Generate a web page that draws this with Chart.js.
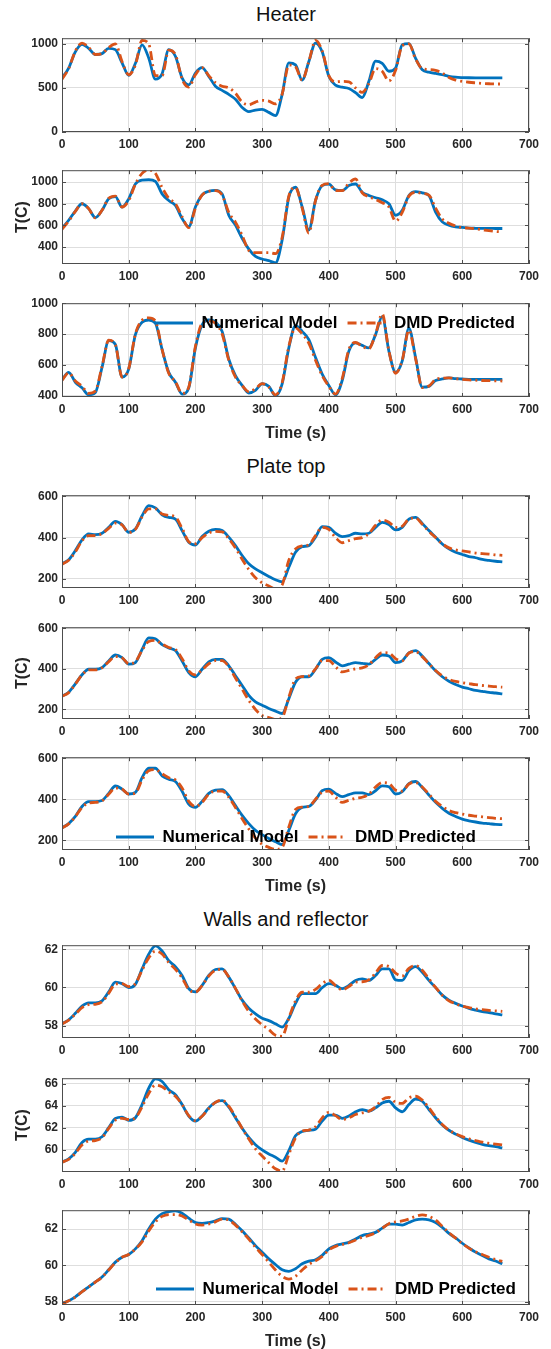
<!DOCTYPE html>
<html>
<head>
<meta charset="utf-8">
<script src="https://cdn.jsdelivr.net/npm/chart.js@4.4.1/dist/chart.umd.min.js"></script>
<style>
  body { margin: 0; background: #fff; }
  #fig { position: relative; width: 551px; height: 1349px; font-family: "Liberation Sans", Arial, sans-serif; }
  #fig canvas { position: absolute; left: 0; }
  .grp-title { position: absolute; width: 260px; margin-left: -130px; text-align: center; font-size: 20px; line-height: 20px; color: #111; }
</style>
</head>
<body>
<div id="fig">
  <div class="grp-title" style="left:286px;top:4px">Heater</div>
  <div class="grp-title" style="left:286px;top:456px">Plate top</div>
  <div class="grp-title" style="left:286px;top:909px">Walls and reflector</div>
</div>
<script>
// time axis (s)
const time = [0,10,20,30,40,50,60,70,80,90,100,110,120,130,140,150,160,170,180,190,200,210,220,230,240,250,260,270,280,290,300,310,320,330,340,350,360,370,380,390,400,410,420,430,440,450,460,470,480,490,500,510,520,530,540,550,560,570,580,590,600,610,620,630,640,650,660];
const xTicks = [0,100,200,300,400,500,600,700];

// Heater
const heaterNum1 = [613,725,910,995,950,880,890,950,935,785,643,780,990,840,600,660,935,860,615,535,670,730,632,520,472,427,372,279,232,249,256,223,185,427,785,762,590,800,1010,910,632,532,509,494,446,390,576,805,780,690,725,990,1004,836,706,680,665,650,632,622,618,616,615,615,615,615,615];
const heaterDmd1 = [600,720,920,1010,960,880,890,960,1000,800,650,760,1040,1000,640,640,930,880,600,510,650,730,640,560,520,500,440,340,310,340,360,350,320,430,760,740,590,800,1040,920,640,570,575,570,500,450,550,720,690,580,700,980,1000,830,720,710,700,670,620,590,575,565,558,552,548,545,545];
const heaterNum2 = [573,648,733,800,755,673,740,845,865,770,845,982,1018,1021,1006,891,830,785,664,588,770,882,915,924,891,694,603,482,382,315,291,276,255,467,861,952,770,558,830,967,980,927,921,967,982,906,876,855,836,800,694,740,876,912,900,876,724,633,603,588,582,576,574,573,573,572,572];
const heaterDmd2 = [565,640,730,800,755,670,740,850,870,770,830,980,1080,1110,1080,950,850,800,680,580,760,880,915,920,880,720,630,510,370,350,350,350,340,490,870,950,760,530,830,970,985,920,920,990,1030,900,865,840,810,770,640,720,870,905,895,880,760,660,620,595,580,575,568,560,552,545,540];
const heaterNum3 = [502,551,487,451,405,420,583,757,732,520,572,796,877,891,870,700,551,487,410,450,710,860,891,877,817,636,530,466,417,434,477,460,400,477,710,855,817,764,647,540,466,405,498,689,743,726,710,796,913,689,551,625,838,647,455,460,498,508,515,510,508,506,505,505,505,505,505];
const heaterDmd3 = [500,548,495,460,415,430,590,760,730,520,575,800,890,905,885,700,545,490,415,455,720,870,885,870,800,630,520,465,425,445,478,455,405,485,720,840,800,740,630,530,460,410,510,700,745,720,705,800,930,690,545,630,825,640,452,462,505,513,515,510,505,502,500,498,497,496,495];

// Plate top
const plateNum1 = [273,292,337,389,418,414,421,450,479,463,426,442,506,555,544,511,498,490,434,377,364,405,431,440,434,402,361,313,273,248,229,211,195,185,256,329,356,361,402,453,450,421,405,410,421,418,421,450,474,463,437,450,490,498,469,434,402,369,345,329,318,308,302,294,289,285,282];
const plateDmd1 = [270,290,330,385,410,410,420,445,470,462,425,440,500,540,540,515,508,500,445,380,370,400,422,430,428,395,350,295,245,205,180,165,150,170,290,345,360,365,410,450,440,400,375,385,395,400,420,460,485,475,450,455,490,495,465,430,400,370,350,340,335,330,325,322,320,316,314];
const plateNum2 = [266,285,326,371,398,398,406,439,468,455,423,431,495,552,548,519,503,490,439,382,361,398,434,447,447,415,366,318,269,237,221,205,192,180,253,334,361,361,398,447,455,434,415,423,431,427,423,447,468,463,431,439,479,490,463,426,390,361,339,323,310,302,294,289,284,281,277];
const plateDmd2 = [265,283,325,370,395,395,405,435,460,455,425,435,490,535,540,522,505,495,450,390,370,395,425,440,440,410,355,300,245,200,170,160,150,160,260,350,362,365,400,440,440,410,385,392,400,405,420,455,480,478,450,440,478,485,460,425,392,365,348,338,332,327,322,318,315,312,310];
const plateNum3 = [261,281,316,365,389,389,394,429,465,450,426,434,506,552,552,515,498,487,439,377,361,390,429,445,447,418,369,321,281,248,227,208,192,179,248,329,361,365,397,442,450,429,413,423,431,431,423,442,466,461,426,437,477,487,458,421,385,356,332,316,303,295,289,284,281,277,276];
const plateDmd3 = [260,280,315,360,382,385,392,425,455,450,425,430,495,540,545,525,505,495,455,390,365,385,425,440,440,410,360,305,255,210,180,165,155,165,265,350,362,365,400,435,440,410,385,395,405,410,425,460,482,478,445,440,475,482,460,425,390,365,345,335,328,322,318,314,310,307,305];

// Walls and reflector
const wallsNum1 = [58.10,58.31,58.65,59.03,59.20,59.20,59.30,59.77,60.28,60.20,59.99,60.16,60.97,61.74,62.17,61.91,61.40,61.09,60.63,59.94,59.77,60.11,60.63,60.94,60.97,60.54,59.94,59.34,58.91,58.62,58.39,58.27,58.10,57.93,58.39,59.17,59.68,59.68,59.68,59.99,60.20,60.11,59.94,60.11,60.37,60.45,60.37,60.63,60.97,60.97,60.40,60.37,60.88,61.09,60.80,60.37,59.99,59.60,59.34,59.17,59.03,58.91,58.82,58.74,58.69,58.62,58.57];
const wallsDmd1 = [58.10,58.30,58.60,58.95,59.10,59.12,59.25,59.70,60.18,60.20,60.05,60.20,60.90,61.55,61.90,61.75,61.30,60.95,60.50,59.90,59.75,60.10,60.60,60.90,60.95,60.55,59.95,59.30,58.75,58.35,58.05,57.80,57.50,57.45,58.40,59.30,59.75,59.75,59.90,60.20,60.38,60.10,59.88,60.05,60.28,60.30,60.40,60.75,61.15,61.10,60.75,60.60,61.00,61.15,60.90,60.45,60.00,59.60,59.30,59.15,59.02,58.95,58.88,58.84,58.80,58.78,58.75];
const wallsNum2 = [58.90,59.20,59.79,60.68,60.98,60.98,61.19,62.02,62.85,62.97,62.67,62.91,64.10,65.58,66.42,66.18,65.44,64.99,64.10,63.06,62.61,63.06,63.80,64.31,64.46,63.86,62.91,61.96,61.13,60.48,60.00,59.64,59.35,58.99,59.94,61.28,61.66,61.78,61.87,62.61,63.15,63.15,62.85,63.06,63.45,63.65,63.51,63.80,64.25,64.40,63.80,63.45,64.10,64.60,64.40,63.65,62.91,62.26,61.78,61.43,61.13,60.89,60.68,60.51,60.39,60.30,60.18];
const wallsDmd2 = [58.90,59.15,59.70,60.45,60.80,60.85,61.10,61.95,62.70,62.85,62.75,62.90,63.90,65.10,65.85,65.70,65.25,64.85,64.10,63.10,62.65,63.05,63.75,64.30,64.50,63.95,63.00,61.95,61.00,60.10,59.45,58.85,58.30,58.10,59.60,61.10,61.70,61.80,62.10,62.90,63.40,63.10,62.75,62.90,63.20,63.35,63.50,63.90,64.55,64.75,64.30,64.20,64.70,64.85,64.50,63.80,63.00,62.30,61.80,61.45,61.20,61.00,60.85,60.70,60.60,60.52,60.45];
const wallsNum3 = [57.91,58.05,58.27,58.55,58.82,59.09,59.36,59.76,60.18,60.45,60.60,60.91,61.36,62.00,62.55,62.85,62.96,63.00,62.87,62.60,62.36,62.31,62.36,62.45,62.58,62.55,62.27,61.91,61.51,61.09,60.73,60.36,60.05,59.76,59.67,59.82,60.09,60.24,60.31,60.55,60.91,61.09,61.18,61.27,61.45,61.64,61.73,61.82,62.05,62.27,62.27,62.22,62.36,62.51,62.55,62.51,62.36,62.09,61.76,61.51,61.22,60.96,60.73,60.55,60.36,60.24,60.09];
const wallsDmd3 = [57.88,58.05,58.25,58.55,58.82,59.08,59.35,59.75,60.15,60.45,60.60,60.90,61.30,61.90,62.40,62.70,62.80,62.80,62.72,62.50,62.28,62.22,62.28,62.40,62.55,62.50,62.22,61.85,61.45,61.00,60.60,60.18,59.75,59.40,59.25,59.40,59.75,60.05,60.25,60.50,60.85,61.05,61.15,61.25,61.40,61.55,61.65,61.80,62.05,62.30,62.40,62.45,62.55,62.70,62.78,62.70,62.50,62.15,61.80,61.50,61.20,60.95,60.75,60.60,60.45,60.32,60.22];

// y tick values
const heaterTicks1 = [0,500,1000];
const heaterTicks2 = [400,600,800,1000];
const heaterTicks3 = [400,600,800,1000];
const plateTicks = [200,400,600];
const wallsTicks1 = [58,60,62];
const wallsTicks2 = [60,62,64,66];
const wallsTicks3 = [58,60,62];

const seriesNames = ['Numerical Model', 'DMD Predicted'];

// layout of the nine axes (page px)
const panels = [
  { num: heaterNum1, dmd: heaterDmd1, yTicks: heaterTicks1, min: 0,     max: 1065,  top: 37,   bottom: 132 },
  { num: heaterNum2, dmd: heaterDmd2, yTicks: heaterTicks2, min: 245,   max: 1109,  top: 169,  bottom: 264, yTitle: true },
  { num: heaterNum3, dmd: heaterDmd3, yTicks: heaterTicks3, min: 391,   max: 1000,  top: 302,  bottom: 397, xTitle: true, legend: [155, 323] },
  { num: plateNum1,  dmd: plateDmd1,  yTicks: plateTicks,   min: 155,   max: 606,   top: 494,  bottom: 588 },
  { num: plateNum2,  dmd: plateDmd2,  yTicks: plateTicks,   min: 153,   max: 605,   top: 626,  bottom: 719, yTitle: true },
  { num: plateNum3,  dmd: plateDmd3,  yTicks: plateTicks,   min: 152,   max: 606,   top: 756,  bottom: 850, xTitle: true, legend: [116, 837] },
  { num: wallsNum1,  dmd: wallsDmd1,  yTicks: wallsTicks1,  min: 57.36, max: 62.21, top: 944,  bottom: 1038 },
  { num: wallsNum2,  dmd: wallsDmd2,  yTicks: wallsTicks2,  min: 58.01, max: 66.48, top: 1077, bottom: 1172, yTitle: true },
  { num: wallsNum3,  dmd: wallsDmd3,  yTicks: wallsTicks3,  min: 57.82, max: 63.04, top: 1209, bottom: 1305, xTitle: true, legend: [156, 1289] }
];

const FONT = '"Liberation Sans", Arial, sans-serif';
const PAD_TOP = 10, AXIS_W = 62, PAD_RIGHT = 22;
const GRID = '#dedede', TXT = '#262626';

// MATLAB style box with inward tick marks
const axesBox = {
  id: 'axesBox',
  afterDatasetsDraw(chart) {
    const { ctx, chartArea: a, scales: { x, y } } = chart;
    ctx.save();
    ctx.strokeStyle = '#4d4d4d';
    ctx.lineWidth = 1;
    ctx.strokeRect(a.left + 0.5, a.top + 0.5, a.right - a.left - 1, a.bottom - a.top - 1);
    ctx.beginPath();
    x.ticks.forEach(t => {
      const px = Math.round(x.getPixelForValue(t.value)) + 0.5;
      ctx.moveTo(px, a.bottom); ctx.lineTo(px, a.bottom - 4);
      ctx.moveTo(px, a.top); ctx.lineTo(px, a.top + 4);
    });
    y.ticks.forEach(t => {
      const py = Math.round(y.getPixelForValue(t.value)) + 0.5;
      ctx.moveTo(a.left, py); ctx.lineTo(a.left + 4, py);
      ctx.moveTo(a.right, py); ctx.lineTo(a.right - 4, py);
    });
    ctx.stroke();
    ctx.restore();
  }
};

// put the legend inside the axes, on top of the lines, without taking layout space
const legendInside = {
  id: 'legendInside',
  beforeLayout(chart) {
    const lg = chart.legend;
    if (!lg || lg._inside) return;
    const fit = lg.fit.bind(lg);
    lg.fit = function () { fit(); this.height = 0; };
    lg._layers = () => [{ z: 1, draw: () => lg.draw() }];
    lg._inside = true;
  },
  afterLayout(chart, args, opts) {
    const lg = chart.legend;
    if (!lg || opts.x == null) return;
    const pad = lg.options.labels.padding;
    const fs = lg.options.labels.font.size;
    lg.left = opts.x - pad;
    lg.right = chart.width;
    lg.width = lg.right - lg.left;
    lg.top = opts.y - pad - fs / 2;
    lg.bottom = lg.top + 40;
    lg.height = 40;
  }
};

const fig = document.getElementById('fig');
const charts = [];

panels.forEach(p => {
  const xh = p.xTitle ? 50 : 24;
  const cTop = p.top - PAD_TOP;
  const h = p.bottom - p.top + PAD_TOP + xh;
  const canvas = document.createElement('canvas');
  canvas.width = 551;
  canvas.height = h;
  canvas.style.top = cTop + 'px';
  canvas.style.width = '551px';
  canvas.style.height = h + 'px';
  fig.appendChild(canvas);

  const toPts = arr => time.map((t, i) => ({ x: t, y: arr[i] }));

  charts.push(new Chart(canvas, {
    type: 'line',
    data: {
      datasets: [
        { label: seriesNames[0], data: toPts(p.num), borderColor: '#0072BD', backgroundColor: '#0072BD',
          borderWidth: 2.8, pointRadius: 0, cubicInterpolationMode: 'monotone', order: 1 },
        { label: seriesNames[1], data: toPts(p.dmd), borderColor: '#D95319', backgroundColor: '#D95319',
          borderWidth: 2.8, borderDash: [9, 4, 2, 4], pointRadius: 0, cubicInterpolationMode: 'monotone', order: 0 }
      ]
    },
    options: {
      responsive: false,
      animation: false,
      events: [],
      layout: { padding: { top: PAD_TOP, right: PAD_RIGHT, left: 0, bottom: 0 } },
      scales: {
        x: {
          type: 'linear', min: 0, max: 700,
          afterBuildTicks: s => { s.ticks = xTicks.map(v => ({ value: v })); },
          afterFit: s => { s.height = xh; },
          grid: { color: GRID, drawTicks: false },
          border: { display: false },
          ticks: { padding: 5, color: TXT, font: { family: FONT, size: 12, weight: 'bold' }, callback: v => String(v) },
          title: { display: !!p.xTitle, text: 'Time (s)', color: TXT, padding: { top: 0, bottom: 4 },
                   font: { family: FONT, size: 16, weight: 'bold' } }
        },
        y: {
          min: p.min, max: p.max,
          afterBuildTicks: s => { s.ticks = p.yTicks.map(v => ({ value: v })); },
          afterFit: s => { s.width = AXIS_W; },
          grid: { color: GRID, drawTicks: false },
          border: { display: false },
          ticks: { padding: 4, color: TXT, font: { family: FONT, size: 12, weight: 'bold' }, callback: v => String(v) },
          title: { display: !!p.yTitle, text: 'T(C)', color: TXT, padding: { top: 13, bottom: 0 },
                   font: { family: FONT, size: 16, weight: 'bold' } }
        }
      },
      plugins: {
        tooltip: { enabled: false },
        legendInside: p.legend ? { x: p.legend[0], y: p.legend[1] - cTop } : {},
        legend: {
          display: !!p.legend,
          position: 'bottom',
          align: 'start',
          labels: {
            usePointStyle: true,
            pointStyle: 'line',
            pointStyleWidth: 38,
            padding: 10,
            color: '#000',
            font: { family: FONT, size: 17, weight: 'bold' },
            sort: (a, b) => a.datasetIndex - b.datasetIndex,
            generateLabels: chart => {
              const items = Chart.defaults.plugins.legend.labels.generateLabels(chart);
              items.forEach(it => {
                const ds = chart.data.datasets[it.datasetIndex];
                it.lineDash = ds.borderDash || [];
                it.lineWidth = ds.borderWidth;
                it.strokeStyle = ds.borderColor;
              });
              return items;
            }
          }
        }
      }
    },
    plugins: [axesBox, legendInside]
  }));
});
</script>
</body>
</html>
